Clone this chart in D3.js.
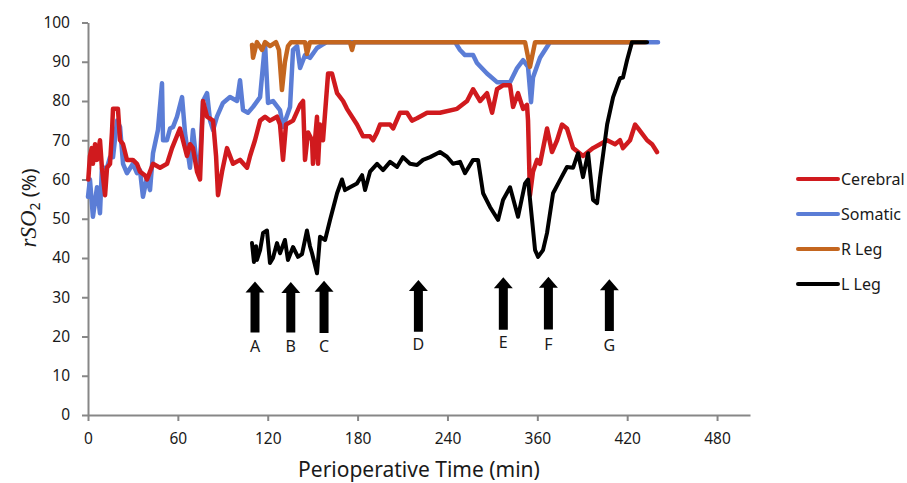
<!DOCTYPE html>
<html>
<head>
<meta charset="utf-8">
<script src="https://cdn.jsdelivr.net/npm/d3@7"></script>
<style>
  body { margin: 0; background: #fff; }
  svg { display: block; }
  text { font-family: "Noto Sans", sans-serif; fill: #1a1a1a; }
</style>
</head>
<body>
<div id="chart"></div>
<script>
// axis ticks (the original axis skips the 300 label)
const xTicks = [0, 60, 120, 180, 240, 300, 360, 420];
const xTickLabels = ["0", "60", "120", "180", "240", "360", "420", "480"];
const yTicks = [0, 10, 20, 30, 40, 50, 60, 70, 80, 90, 100];

const seriesNames = ["Cerebral", "Somatic", "R Leg", "L Leg"];

// [time (min), rSO2 %]
const cerebral = [
  [0.2, 60], [1.3, 66], [2.5, 68], [3.3, 64], [4.7, 69], [6.0, 65], [8.0, 70], [9.3, 63],
  [11.4, 56], [12.7, 63], [14.7, 64], [16.0, 72], [16.7, 78], [20.0, 78], [21.4, 70],
  [23.4, 69], [26.0, 65], [30.0, 65], [32.7, 64], [34.7, 62], [38.1, 61], [39.4, 60],
  [41.4, 62], [43.4, 64], [48.1, 63], [52.8, 64], [56.1, 68], [61.4, 73], [63.4, 70],
  [66.1, 66], [68.1, 69], [70.1, 68], [72.8, 62], [74.8, 60], [76.8, 80], [79.5, 76],
  [83.5, 75], [85.5, 66], [86.8, 56], [89.5, 62], [92.8, 68], [96.8, 64], [101.5, 65],
  [106.2, 63], [108.2, 66], [111.5, 70], [114.9, 75], [118.2, 76], [121.5, 75], [126.2, 76],
  [128.2, 74], [130.2, 65], [132.2, 74], [136.9, 75], [141.6, 79], [143.6, 80], [144.9, 65],
  [146.9, 72], [149.6, 70], [150.2, 64], [152.9, 76], [153.6, 64], [154.9, 74], [156.9, 70],
  [160.3, 87], [162.9, 87], [166.3, 82], [170.3, 80], [172.9, 78], [179.6, 74], [183.6, 71],
  [188.3, 71], [190.3, 70], [193.0, 72], [195.0, 74], [201.7, 74], [203.7, 73], [208.3, 77],
  [213.0, 77], [216.3, 75], [219.7, 75.6], [226.4, 77], [235.0, 77], [246.4, 78], [253.1, 80],
  [257.1, 83], [261.8, 80], [266.4, 82], [269.8, 77], [273.1, 83], [277.1, 84], [281.8, 84],
  [283.8, 78.5], [287.1, 82], [290.5, 78], [293.1, 79], [293.8, 75], [295.1, 56], [297.1, 62],
  [299.8, 65], [301.8, 64], [306.5, 73], [309.8, 67], [313.2, 70], [316.5, 74], [319.8, 73],
  [323.9, 68], [330.5, 66], [337.2, 68], [341.9, 69], [346.6, 70], [351.9, 69], [355.2, 70],
  [357.2, 68], [361.9, 70], [365.3, 74], [367.3, 73], [373.3, 70], [376.6, 69], [379.9, 67]
];

const somatic = [
  [0, 55.6], [1.3, 60], [3.3, 50.5], [6.0, 58], [8.0, 51.4], [9.3, 63], [12.7, 63],
  [14.7, 65.7], [16.7, 65.7], [19.4, 75], [21.4, 73.4], [23.4, 64], [26.0, 61.6], [30.0, 64],
  [32.7, 61.6], [34.7, 62.4], [36.7, 55.6], [39.4, 60.6], [41.4, 57.3], [43.4, 66.7],
  [46.7, 72.6], [49.4, 84.5], [50.1, 70], [52.7, 70], [54.8, 73], [56.8, 73.4], [59.4, 76],
  [62.8, 81], [64.8, 71.8], [68.1, 63], [70.1, 72.6], [72.8, 63], [74.8, 65], [76.8, 80],
  [79.5, 82], [81.5, 75], [83.5, 72.6], [86.1, 76], [90.1, 79.5], [94.8, 81], [99.5, 80],
  [101.5, 85.3], [103.5, 77.7], [106.8, 77], [110.2, 78.5], [114.9, 81], [118.2, 94.7],
  [120.2, 79.5], [123.5, 80], [128.2, 77.7], [130.2, 73.4], [134.9, 78.5], [136.9, 93],
  [139.6, 94], [141.6, 88.4], [144.9, 91.7], [148.2, 91], [152.9, 93.5], [156.3, 94.3],
  [159.6, 95], [245.1, 95], [248.4, 93], [251.7, 91.7], [257.1, 91.7], [259.7, 89.7],
  [266.4, 87], [273.1, 84.8], [281.8, 84.8], [286.5, 88.4], [290.5, 90.4], [293.8, 88.7],
  [295.8, 79.7], [297.1, 86], [301.8, 91], [306.5, 93.8], [308.5, 95], [380.6, 95]
];

const rLeg = [
  [109.5, 94.3], [110.2, 91], [111.5, 93], [112.8, 95], [116.2, 93], [118.2, 95], [121.5, 94],
  [125.5, 95], [127.5, 93], [129.5, 82.8], [131.5, 90], [133.5, 94], [135.6, 95], [144.9, 95],
  [146.2, 92], [148.2, 95], [174.9, 95], [176.3, 93], [177.6, 95], [291.8, 95], [295.1, 88.7],
  [298.5, 95], [371.9, 95]
];

const lLeg = [
  [109.5, 43.8], [110.8, 39], [112.2, 43], [112.8, 39.5], [114.9, 42], [116.9, 46.4],
  [119.5, 47], [121.5, 38.7], [123.5, 40], [126.2, 43.8], [128.2, 41.2], [131.5, 44.6],
  [133.5, 39.5], [136.9, 42.8], [140.2, 40.3], [142.9, 41], [146.2, 47], [148.2, 43],
  [149.6, 41.2], [152.9, 36.1], [154.9, 45.4], [158.3, 44.6], [161.6, 49.7], [166.3, 56.5],
  [169.6, 60], [171.6, 57.3], [174.9, 58], [179.6, 59], [183.0, 61.1], [185.0, 57.3],
  [188.3, 62], [193.0, 64], [197.0, 62.4], [201.7, 64.5], [206.3, 63.2], [210.3, 65.7],
  [215.0, 64], [219.7, 63.7], [223.7, 65], [228.4, 65.7], [235.0, 67], [239.7, 65.8],
  [243.7, 64], [248.4, 64.5], [251.7, 61.6], [257.1, 65], [260.4, 65], [263.8, 56.5],
  [268.4, 53], [273.8, 49.7], [277.1, 54.8], [281.8, 58], [287.1, 50.5], [291.8, 59],
  [293.8, 60], [296.5, 49.7], [298.5, 42], [300.5, 40.3], [303.8, 42], [306.5, 46.4],
  [310.5, 56.5], [315.2, 59.9], [319.8, 63.2], [323.9, 63], [327.2, 66.7], [330.5, 60.6],
  [333.9, 66.7], [337.2, 54.8], [339.9, 54], [341.9, 60.6], [346.6, 74], [350.6, 81],
  [355.2, 85.8], [357.2, 86], [359.9, 90.4], [363.2, 95], [373.3, 95]
];

// event arrows: label, time, tip value, base value, label value
const eventLabels = ["A", "B", "C", "D", "E", "F", "G"];
const eventTimes = [111.5, 135.4, 157.6, 220.6, 277.3, 307.4, 348.1];
const eventTips = [34.0, 33.9, 34.2, 34.4, 35.1, 35.2, 34.6];
const eventBases = [21.0, 21.0, 20.9, 21.2, 21.7, 21.8, 21.4];
const eventLabelVals = [17.4, 17.4, 17.6, 18.1, 18.4, 18.1, 17.8];

const width = 907;
const height = 483;

const svg = d3.select("#chart")
    .append("svg")
    .attr("width", width)
    .attr("height", height);

const x = d3.scaleLinear().domain([0, 442]).range([88, 750]);
const y = d3.scaleLinear().domain([0, 100]).range([415, 22.5]);

const colors = d3.scaleOrdinal()
    .domain(seriesNames)
    .range(["#d01a1e", "#5b7dd6", "#c4661f", "#000000"]);

// axes
const yAxis = svg.append("g")
    .attr("transform", `translate(${x(0)},0)`)
    .call(d3.axisLeft(y).tickValues(yTicks).tickSize(6).tickSizeOuter(0).tickPadding(12));

const xAxis = svg.append("g")
    .attr("transform", `translate(0,${y(0)})`)
    .call(d3.axisBottom(x).tickValues(xTicks).tickSize(6).tickSizeOuter(0).tickPadding(12)
        .tickFormat((d, i) => xTickLabels[i]));

[xAxis, yAxis].forEach(g => {
    g.select(".domain").attr("stroke", "#878787").attr("stroke-width", 2);
    g.selectAll(".tick line").attr("stroke", "#878787").attr("stroke-width", 2);
    g.selectAll(".tick text").attr("font-size", 15.5).attr("fill", "#1a1a1a")
        .attr("font-family", "'Noto Sans', sans-serif");
});

// lines
const line = d3.line()
    .x(d => x(d[0]))
    .y(d => y(d[1]));

const seriesData = { "Cerebral": cerebral, "Somatic": somatic, "R Leg": rLeg, "L Leg": lLeg };
const drawOrder = ["Somatic", "Cerebral", "R Leg", "L Leg"];

svg.append("g")
    .selectAll("path")
    .data(drawOrder)
    .enter()
    .append("path")
    .attr("d", d => line(seriesData[d]))
    .attr("fill", "none")
    .attr("stroke", d => colors(d))
    .attr("stroke-width", d => d === "L Leg" ? 4 : 4.5)
    .attr("stroke-linejoin", "round")
    .attr("stroke-linecap", "round");

// event arrows
const events = eventLabels.map((l, i) => ({
    label: l, t: eventTimes[i], tip: eventTips[i], base: eventBases[i], lv: eventLabelVals[i]
}));

const arrow = d => {
    const cx = x(d.t), ty = y(d.tip), by = y(d.base);
    const sw = 4.5, hw = 9.5, hh = 11;
    return `M${cx - sw},${by}L${cx - sw},${ty + hh}L${cx - hw},${ty + hh}L${cx},${ty}` +
        `L${cx + hw},${ty + hh}L${cx + sw},${ty + hh}L${cx + sw},${by}Z`;
};

const ev = svg.append("g");
ev.selectAll("path")
    .data(events)
    .enter()
    .append("path")
    .attr("d", arrow)
    .attr("fill", "#000");

ev.selectAll("text")
    .data(events)
    .enter()
    .append("text")
    .attr("x", d => x(d.t))
    .attr("y", d => y(d.lv))
    .attr("dy", "0.35em")
    .attr("text-anchor", "middle")
    .attr("font-size", 16)
    .text(d => d.label);

// axis titles
svg.append("text")
    .attr("x", 419)
    .attr("y", 477)
    .attr("text-anchor", "middle")
    .attr("font-size", 21)
    .text("Perioperative Time (min)");

const yTitle = svg.append("text")
    .attr("transform", "translate(36,208) rotate(-90)")
    .attr("text-anchor", "middle")
    .attr("font-size", 20);
yTitle.append("tspan")
    .attr("font-family", "'Liberation Serif', serif")
    .attr("font-style", "italic")
    .attr("font-size", 23)
    .text("rSO");
yTitle.append("tspan")
    .attr("font-size", 14)
    .attr("dy", 4)
    .text("2");
yTitle.append("tspan")
    .attr("dy", -4)
    .text(" (%)");

// legend
const legend = svg.append("g")
    .attr("transform", "translate(798,179)");

const legendItem = legend.selectAll("g")
    .data(seriesNames)
    .enter()
    .append("g")
    .attr("transform", (d, i) => `translate(0,${i * 35})`);

legendItem.append("line")
    .attr("x1", 0)
    .attr("x2", 40)
    .attr("stroke", d => colors(d))
    .attr("stroke-width", 4)
    .attr("stroke-linecap", "round");

legendItem.append("text")
    .attr("x", 43)
    .attr("dy", "0.35em")
    .attr("font-size", 16)
    .text(d => d);
</script>
</body>
</html>
